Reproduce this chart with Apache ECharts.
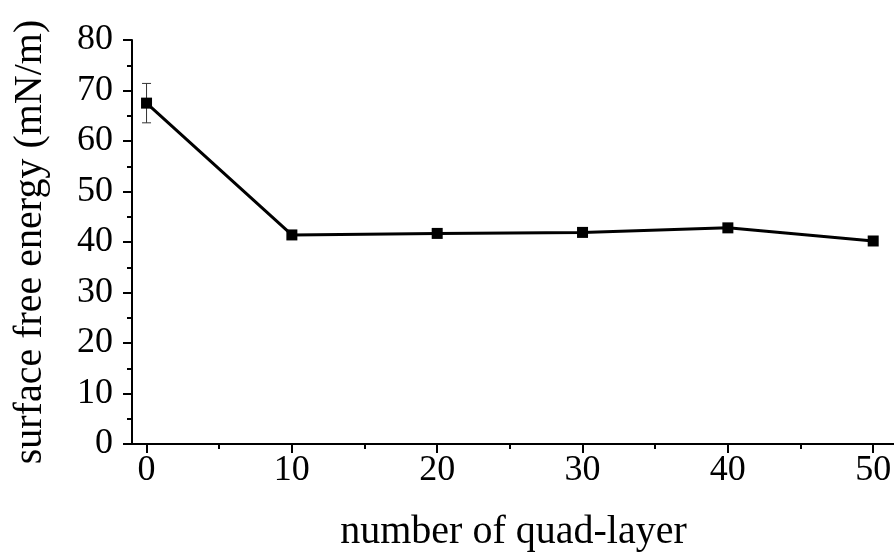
<!DOCTYPE html>
<html>
<head>
<meta charset="utf-8">
<script src="https://cdn.jsdelivr.net/npm/echarts@6/dist/echarts.min.js"></script>
<style>html,body{margin:0;padding:0;background:#fff}#c{width:894px;height:552px}</style>
</head>
<body>
<div id="c"></div>
<script>
var layers = [0, 10, 20, 30, 40, 50];
var energy = [67.5, 41.4, 41.7, 41.9, 42.8, 40.2];
var errLow = [63.6, null, null, null, null, null];
var errHigh = [71.4, null, null, null, null, null];
var xMajorTicks = [0, 10, 20, 30, 40, 50];
var xMinorTicks = [5, 15, 25, 35, 45];
var xTitle = 'number of quad-layer';
var yTitle = 'surface free energy (mN/m)';

var FONT = "'Liberation Serif','Times New Roman',serif";
var chart = echarts.init(document.getElementById('c'));

var lineData = layers.map(function (x, i) { return [x, energy[i]]; });
var errData = [];
layers.forEach(function (x, i) {
  if (errLow[i] != null) errData.push([x, errLow[i], errHigh[i]]);
});

chart.setOption({
  animation: false,
  backgroundColor: '#fff',
  grid: { left: 132, top: 40, right: -1, bottom: 108, containLabel: false, outerBoundsMode: 'none' },
  xAxis: [{
    type: 'value', min: -1, max: 51.5,
    name: xTitle, nameLocation: 'middle', nameGap: 68,
    nameTextStyle: { fontFamily: FONT, fontSize: 40, color: '#000' },
    axisLine: { show: true, onZero: false, lineStyle: { color: '#000', width: 2 } },
    axisTick: { show: true, length: 9, customValues: xMajorTicks, lineStyle: { color: '#000', width: 2 } },
    axisLabel: { show: true, customValues: xMajorTicks, margin: 9, fontFamily: FONT, fontSize: 36, color: '#000' },
    splitLine: { show: false }
  }, {
    type: 'value', min: -1, max: 51.5, position: 'bottom',
    axisLine: { show: false, onZero: false },
    axisTick: { show: true, length: 5, customValues: xMinorTicks, lineStyle: { color: '#000', width: 2 } },
    axisLabel: { show: false, customValues: xMinorTicks },
    splitLine: { show: false }
  }],
  yAxis: {
    type: 'value', min: 0, max: 80, interval: 10,
    name: yTitle, nameLocation: 'middle', nameGap: 82,
    nameTextStyle: { fontFamily: FONT, fontSize: 40, color: '#000' },
    axisLine: { show: true, onZero: false, lineStyle: { color: '#000', width: 2 } },
    axisTick: { show: true, length: 9, lineStyle: { color: '#000', width: 2 } },
    minorTick: { show: true, splitNumber: 2, length: 5, lineStyle: { color: '#000', width: 2 } },
    axisLabel: { margin: 19, fontFamily: FONT, fontSize: 36, color: '#000' },
    splitLine: { show: false }
  },
  series: [{
    type: 'line',
    data: lineData,
    symbol: 'rect',
    symbolSize: 11,
    itemStyle: { color: '#000' },
    lineStyle: { color: '#000', width: 3 },
    z: 3
  }, {
    type: 'custom',
    data: errData,
    z: 2,
    renderItem: function (params, api) {
      var x = api.value(0);
      var lo = api.coord([x, api.value(1)]);
      var hi = api.coord([x, api.value(2)]);
      var cap = 4.5;
      var st = { stroke: '#333', lineWidth: 1 };
      return {
        type: 'group',
        children: [
          { type: 'line', shape: { x1: lo[0], y1: lo[1], x2: hi[0], y2: hi[1] }, style: st },
          { type: 'line', shape: { x1: lo[0] - cap, y1: lo[1], x2: lo[0] + cap, y2: lo[1] }, style: st },
          { type: 'line', shape: { x1: hi[0] - cap, y1: hi[1], x2: hi[0] + cap, y2: hi[1] }, style: st }
        ]
      };
    }
  }]
});
</script>
</body>
</html>
